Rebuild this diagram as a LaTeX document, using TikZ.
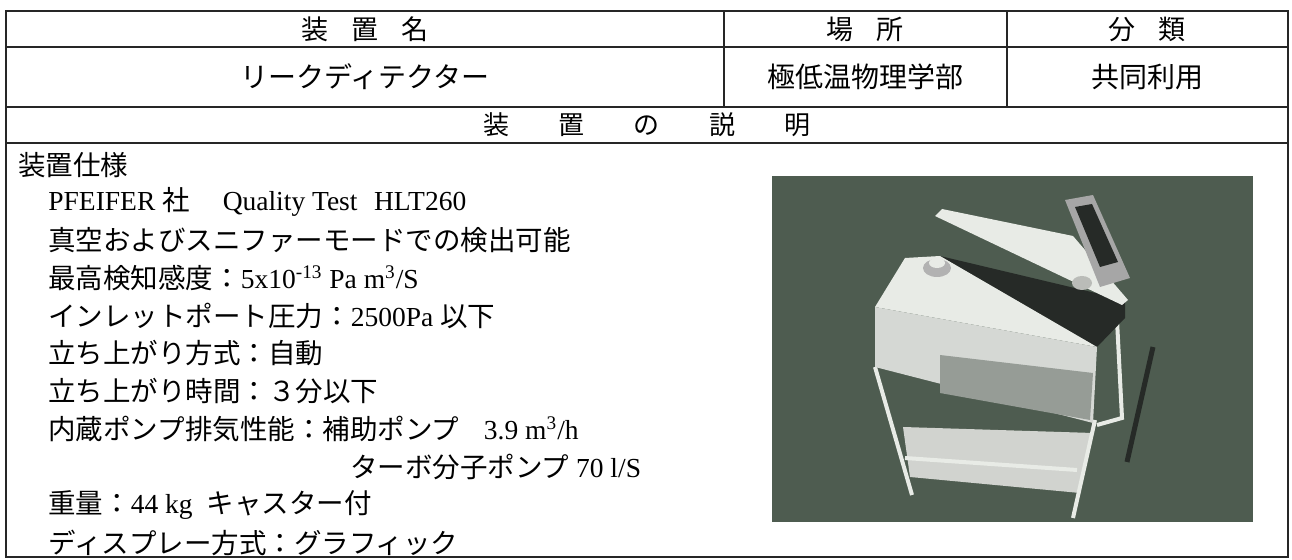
\documentclass[tikz,border=0pt]{standalone}
\usepackage{fontspec}
\setmainfont{Liberation Serif}
\newfontfamily\jpfont{Noto Sans CJK JP}
\usepackage{tikz}
\newcommand{\jp}[1]{{\jpfont #1}}
\newcommand{\gap}{\hspace{0.85em}}
\newcommand{\wgap}{\hspace{1.9em}}
\definecolor{floor}{RGB}{78,92,80}
\definecolor{lid}{RGB}{38,42,39}
\definecolor{body}{RGB}{232,235,230}
\definecolor{panel}{RGB}{150,156,150}

\begin{document}
\begin{tikzpicture}[x=0.5pt,y=-0.5pt,
    rule/.style={line width=0.8pt, draw=black!85},
    head/.style={inner sep=0pt, font=\jpfont\fontsize{13.5}{15}\selectfont},
    spec/.style={anchor=west, inner sep=0pt, font=\fontsize{13.75}{16}\selectfont}]
    \useasboundingbox (0,0) rectangle (1292,560);
    % table
    \draw[rule] (6,11) rectangle (1288,557);
    \draw[rule] (6,47) -- (1288,47);
    \draw[rule] (6,107) -- (1288,107);
    \draw[rule] (6,143) -- (1288,143);
    \draw[rule] (724,11) -- (724,107);
    \draw[rule] (1007,11) -- (1007,107);
    % header cells
    \node[head] (hdname) at (365,29) {装\gap 置\gap 名};
    \node[head] (hdplace) at (865,29) {場\gap 所};
    \node[head] (hdclass) at (1147,29) {分\gap 類};
    \node[head, font=\jpfont\fontsize{14}{16}\selectfont] (name) at (365,77) {リークディテクター};
    \node[head, font=\jpfont\fontsize{14}{16}\selectfont] (place) at (865,77) {極低温物理学部};
    \node[head, font=\jpfont\fontsize{14}{16}\selectfont] (class) at (1147,77) {共同利用};
    \node[head, font=\jpfont\fontsize{13}{15}\selectfont] (desc) at (647,125) {装\wgap 置\wgap の\wgap 説\wgap 明};
    % specification
    \node[spec] (s0) at (18,165) {\jp{装置仕様}};
    \node[spec] (s1) at (48,202) {PFEIFER \jp{社}\hspace{1.2em}Quality Test\hspace{0.6em}HLT260};
    \node[spec] (s2) at (48,240) {\jp{真空およびスニファーモードでの検出可能}};
    \node[spec] (s3) at (48,278) {\jp{最高検知感度：}5x10\textsuperscript{-13} Pa m\textsuperscript{3}/S};
    \node[spec] (s4) at (48,316) {\jp{インレットポート圧力：}2500Pa \jp{以下}};
    \node[spec] (s5) at (48,353) {\jp{立ち上がり方式：自動}};
    \node[spec] (s6) at (48,391) {\jp{立ち上がり時間：３分以下}};
    \node[spec] (s7) at (48,429) {\jp{内蔵ポンプ排気性能：補助ポンプ}\hspace{0.9em}3.9 m\textsuperscript{3}/h};
    \node[spec] (s8) at (48,467) {\phantom{\jp{内蔵ポンプ排気性能：}}\hspace{1em}\jp{ターボ分子ポンプ} 70 l/S};
    \node[spec] (s9) at (48,505) {\jp{重量：}44 kg\hspace{0.5em}\jp{キャスター付}};
    \node[spec] (s10) at (48,543) {\jp{ディスプレー方式：グラフィック}};
    % photo of the leak detector
    \fill[floor] (772,176) rectangle (1253,522);
    \begin{scope}
        \clip (772,176) rectangle (1253,522);
        \draw[line width=2.5pt, lid] (1153,347) -- (1127,462);
        \fill[body!90!black] (903,427) -- (1093,433) -- (1080,493) -- (910,477) -- cycle;
        \draw[line width=2pt, body] (875,367) -- (912,495);
        \draw[line width=2pt, body] (1095,420) -- (1073,518);
        \draw[line width=2pt, body] (905,458) -- (1077,470);
        \draw[line width=2pt, body] (1117,320) -- (1122,418) -- (1097,425);
        \fill[lid] (940,256) -- (1125,300) -- (1125,318) -- (1097,347) -- cycle;
        \fill[body] (935,216) -- (942,209) -- (1073,236) -- (1128,300) -- (1122,305) -- cycle;
        \fill[body] (875,307) -- (905,258) -- (940,256) -- (1097,347) -- cycle;
        \fill[body!92!black] (875,307) -- (1097,347) -- (1093,423) -- (875,367) -- cycle;
        \fill[panel] (940,355) -- (1093,373) -- (1090,420) -- (940,393) -- cycle;
        \fill[body!80!black] (1082,283) ellipse (10 and 7);
        \fill[black!35] (1065,200) -- (1093,195) -- (1130,278) -- (1100,287) -- cycle;
        \fill[lid] (1075,207) -- (1092,204) -- (1118,262) -- (1100,267) -- cycle;
        \fill[black!30] (937,268) ellipse (14 and 9);
        \fill[body] (937,263) ellipse (8 and 5);
    \end{scope}
\end{tikzpicture}
\end{document}
